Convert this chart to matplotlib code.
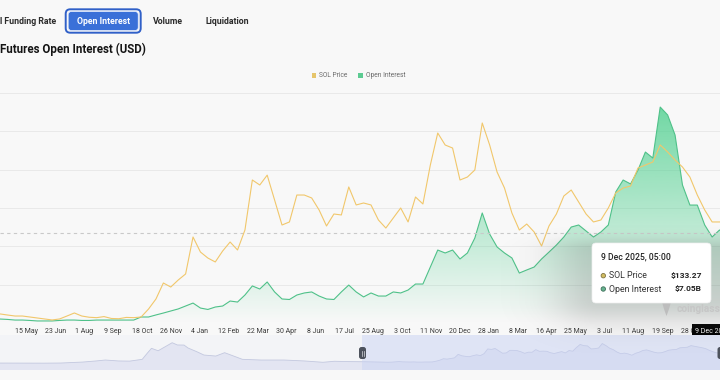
import numpy as np
import pandas as pd
import matplotlib
matplotlib.use("Agg")
import matplotlib.pyplot as plt
import matplotlib.dates as mdates
from matplotlib.patches import FancyBboxPatch, Polygon, Rectangle, Circle
from matplotlib.colors import to_rgb

plt.rcParams["font.family"] = ["Roboto", "DejaVu Sans"]

# =======================================================
# DATA
# =======================================================

# main window: every 10 days from 10 Apr 2023, last point = tooltip
main_dates = list(pd.date_range("2023-04-10", periods=98, freq="10D")) + [pd.Timestamp("2025-12-09 05:00")]

sol_price = [
    21, 19.7, 18.5, 18.5, 17.3, 16.1, 14.9, 13.7, 14.9, 18.5,
    22.2, 18.5, 17.0, 16.5, 17.8, 15.5, 15.2, 16.8, 16.5, 17.3,
    27, 39.2, 58.7, 53.8, 62.3, 69.7, 114.7, 96.4, 89.1, 84.3,
    97.7, 108.6, 98.9, 123.2, 184.1, 178, 190, 159.7, 129.3, 133,
    165.8, 165.8, 162.2, 147.6, 128.1, 142.7, 141.5, 175.6, 153.7, 156.1,
    153.7, 135.4, 125.6, 137.8, 150, 133, 163.4, 154.9, 202.3, 241.3,
    226.7, 223, 184.1, 187.7, 196.3, 253.5, 226.7, 193.8, 174.3, 143.9,
    123.2, 130.5, 120.8, 103.7, 128.1, 142.7, 164.6, 171.9, 157.3, 142.7,
    133, 135.4, 150, 168.3, 174.3, 176.8, 198.7, 202.3, 206, 226.7,
    218.2, 208.4, 199.9, 187.7, 165.8, 147.6, 133, 133, 133.27,
]

# open interest, USD billions
open_interest = [
    0.31, 0.28, 0.23, 0.23, 0.20, 0.16, 0.16, 0.16, 0.20, 0.23,
    0.23, 0.20, 0.20, 0.23, 0.23, 0.23, 0.23, 0.23, 0.23, 0.47,
    0.47, 0.63, 0.78, 0.94, 1.10, 1.33, 1.56, 1.17, 1.06, 1.25,
    1.33, 1.72, 1.64, 2.19, 2.90, 2.66, 3.21, 2.43, 1.88, 1.84,
    2.19, 2.35, 2.43, 2.11, 1.88, 1.84, 2.43, 2.97, 2.43, 2.04,
    2.35, 2.11, 2.11, 2.43, 2.35, 2.58, 3.05, 3.05, 4.38, 5.71,
    5.48, 5.71, 5.01, 5.48, 6.65, 8.61, 6.96, 5.95, 5.48, 5.09,
    3.91, 4.15, 4.38, 5.01, 5.55, 6.10, 6.73, 7.51, 7.67, 7.20,
    6.73, 7.12, 7.67, 10.25, 11.19, 10.88, 11.97, 13.38, 12.91, 16.90,
    16.28, 14.71, 10.80, 9.23, 9.23, 7.67, 6.73, 7.28, 7.05,
]

# older price history, only visible in the zoom slider
hist_dates = [
    "2020-08-02", "2020-10-01", "2020-12-01", "2021-01-15", "2021-02-15",
    "2021-03-15", "2021-04-20", "2021-05-15", "2021-06-20", "2021-07-20",
    "2021-08-23", "2021-09-06", "2021-09-17", "2021-10-05", "2021-10-24",
    "2021-11-12", "2021-11-26", "2021-12-14", "2021-12-25", "2022-01-18",
    "2022-02-06", "2022-03-10", "2022-04-03", "2022-04-27", "2022-05-21",
    "2022-07-10", "2022-09-10", "2022-11-05", "2022-12-25", "2023-01-25",
    "2023-03-01",
]
hist_price = [
    3, 2.5, 1.8, 3.5, 10, 16, 30, 42, 30, 28,
    51, 132, 192, 161, 212, 264, 235, 234, 196, 148,
    106, 93, 136, 93, 51, 42, 42, 30, 13, 26,
    22,
]

tick_dates = pd.date_range("2023-05-15", periods=24, freq="39D")

# =======================================================
# STYLE
# =======================================================

BG = "#f8f8f8"
GREEN = "#4fc189"
GREEN_FILL = "#4fd08f"
YELLOW = "#f1c76b"
GRID = "#e9e9e9"

W, H = 720, 380

fig = plt.figure(figsize=(7.2, 3.8), dpi=100, facecolor=BG)


def fbox(x0, y0, x1, y1):
    # pixel box (top-left origin) -> figure rect
    return [x0 / W, 1 - y1 / H, (x1 - x0) / W, (y1 - y0) / H]


x_main = mdates.date2num(main_dates)
left_main = mdates.date2num(pd.Timestamp("2023-04-09 17:00"))
right_main = left_main + 970.9

# =======================================================
# MAIN CHART
# =======================================================

ax = fig.add_axes(fbox(0, 93, 720, 323))
ax.set_facecolor(BG)
ax.set_axisbelow(True)
for s in ax.spines.values():
    s.set_visible(False)

ax.set_yticks(np.arange(0, 19, 3))
ax.set_ylim(0, 18)
ax.grid(axis="y", color=GRID, lw=0.7)
ax.tick_params(axis="y", length=0, labelleft=False)

# gradient area for open interest
verts = [(x_main[0], 0)] + list(zip(x_main, open_interest)) + [(x_main[-1], 0)]
poly = Polygon(verts, closed=True, facecolor="none", edgecolor="none")
ax.add_patch(poly)
grad = np.zeros((256, 1, 4))
grad[..., :3] = to_rgb(GREEN_FILL)
grad[..., 3] = np.linspace(0.8, 0.0, 256).reshape(-1, 1)
im = ax.imshow(grad, extent=[x_main[0], x_main[-1], 0, max(open_interest)],
               aspect="auto", origin="upper", zorder=1)
im.set_clip_path(poly)
ax.plot(x_main, open_interest, color=GREEN, lw=0.8, zorder=2)

ax.axhline(open_interest[-1], color="#c9c9c9", lw=0.8, ls=(0, (3, 3)), zorder=2)

ax.set_xlim(left_main, right_main)
ax.set_ylim(0, 18)
ax.set_xticks(mdates.date2num(tick_dates))
ax.set_xticklabels([f"{d.day} {d:%b}" for d in tick_dates])
ax.tick_params(axis="x", length=0, pad=3.5, labelsize=5, labelcolor="#3a3a3a")

last = main_dates[-1]
stamp = f"{last.day} {last:%b %Y}, {last:%H:%M}"
ax.text(x_main[-1], -0.035, stamp, transform=ax.get_xaxis_transform(),
        ha="center", va="center", fontsize=5, color="white", clip_on=False,
        zorder=6, bbox=dict(boxstyle="square,pad=0.45", fc="black", ec="none"))

axp = ax.twinx()
for s in axp.spines.values():
    s.set_visible(False)
axp.plot(x_main, sol_price, color=YELLOW, lw=0.8)
axp.set_ylim(10, 290)
axp.set_yticks([])
axp.set_xlim(left_main, right_main)

# =======================================================
# ZOOM SLIDER
# =======================================================

sl = fig.add_axes(fbox(0, 335, 720, 370))
sl.set_facecolor("#f3f4f7")
for s in sl.spines.values():
    s.set_visible(False)
sl.set_xticks([])
sl.set_yticks([])

x_hist = mdates.date2num(pd.to_datetime(hist_dates))
sx = np.concatenate([x_hist, x_main])
sy = np.concatenate([hist_price, sol_price])
sl.fill_between(sx, sy, -100, color="#e3e5f2", lw=0, zorder=1)
sl.plot(sx, sy, color="#c3c8df", lw=0.6, zorder=2)
sl.axvspan(left_main, x_main[-1], color="#c8d2f4", alpha=0.45, lw=0, zorder=3)
slider_left = left_main - 979.7
sl.set_xlim(slider_left, slider_left + 1948.6)
sl.set_ylim(-86, 363)

# =======================================================
# OVERLAY (page chrome, legend, tooltip)
# =======================================================

ov = fig.add_axes([0, 0, 1, 1])
ov.set_xlim(0, W)
ov.set_ylim(H, 0)
ov.axis("off")
ov.set_zorder(10)

# tooltip shadow
yy, xx = np.mgrid[0:H, 0:W] + 0.5
dx = np.maximum(np.maximum(600 - xx, xx - 720), 0)
dup = np.maximum(250 - yy, 0)
ddn = np.maximum(yy - 300, 0)
d2 = (dx / 48) ** 2 + (dup / 12) ** 2 + (ddn / 26) ** 2
shadow = np.zeros((H, W, 4))
shadow[..., :3] = 0.42
shadow[..., 3] = 0.27 * np.exp(-d2)
ov.imshow(shadow, extent=(0, W, H, 0), aspect="auto", zorder=1)
ov.set_xlim(0, W)
ov.set_ylim(H, 0)

# top buttons
ov.text(0.5, 21, "l Funding Rate", fontsize=6.3, weight="semibold", color="#2b2b2b",
        ha="left", va="center")
ov.add_patch(FancyBboxPatch((65.7, 9.3), 75, 23.4, boxstyle="round,pad=0,rounding_size=4.5",
                            fc="none", ec="#3060c8", lw=1.4, zorder=3))
ov.add_patch(FancyBboxPatch((68.2, 11.6), 70, 18.8, boxstyle="round,pad=0,rounding_size=3",
                            fc="#3a70d8", ec="#e4ecfc", lw=0.5, zorder=3))
ov.text(103.2, 21, "Open Interest", fontsize=6.3, weight="semibold", color="white",
        ha="center", va="center", zorder=4)
ov.text(168, 21, "Volume", fontsize=6.3, weight="semibold", color="#2b2b2b",
        ha="center", va="center")
ov.text(227.5, 21, "Liquidation", fontsize=6.3, weight="semibold", color="#2b2b2b",
        ha="center", va="center")

# title
ov.text(0, 49, "Futures Open Interest (USD)", fontsize=8.3, weight="bold",
        color="#151515", ha="left", va="center")

# legend
ov.add_patch(Rectangle((311.7, 73.3), 4.5, 4.5, fc="#e6c56b", ec="none"))
ov.text(319.3, 75.6, "SOL Price", fontsize=4.8, color="#6b6b6b", ha="left", va="center")
ov.add_patch(Rectangle((358, 73.3), 4.5, 4.5, fc="#5ccb92", ec="none"))
ov.text(366, 75.6, "Open Interest", fontsize=4.8, color="#6b6b6b", ha="left", va="center")

# watermark
ov.add_patch(Polygon([(662, 302), (671, 302), (669, 309), (666.5, 316), (664, 309)],
                     closed=True, fc="#bdbdbd", ec="none", zorder=2))
ov.text(676.5, 309, "coinglass", fontsize=7.3, weight="bold", color="#c6c6c6",
        ha="left", va="center", zorder=2)

# slider handles
for hx in (362.5, 721):
    ov.add_patch(FancyBboxPatch((hx - 3.5, 347), 7, 12, boxstyle="round,pad=0,rounding_size=2.5",
                                fc="#4d525d", ec="none", zorder=3))
    ov.plot([hx - 1, hx - 1], [350.5, 355.5], color="#d9dbe0", lw=0.5, zorder=4)
    ov.plot([hx + 1, hx + 1], [350.5, 355.5], color="#d9dbe0", lw=0.5, zorder=4)

# tooltip
ov.add_patch(FancyBboxPatch((592, 243), 119, 60, boxstyle="round,pad=0,rounding_size=4",
                            fc="white", ec="#efefef", lw=0.5, zorder=5))
ov.text(601, 257.3, stamp, fontsize=6.2, weight="medium", color="#222222",
        ha="left", va="center", zorder=6)
rows = [
    ("SOL Price", f"${sol_price[-1]:.2f}", "#d2bd62", "#7f7340", 275.7),
    ("Open Interest", f"${open_interest[-1]:.2f}B", "#66b38f", "#3e6f5a", 289),
]
for name, val, fc, ec, ty in rows:
    ov.add_patch(Circle((603.3, ty), 2.2, fc=fc, ec=ec, lw=0.6, zorder=6))
    ov.text(609, ty, name, fontsize=6.3, color="#333333", ha="left", va="center", zorder=6)
    ov.text(701.7, ty, val, fontsize=6.0, weight="semibold", color="#222222",
            ha="right", va="center", zorder=6)

fig.savefig("out.png", dpi=100, facecolor=BG)
